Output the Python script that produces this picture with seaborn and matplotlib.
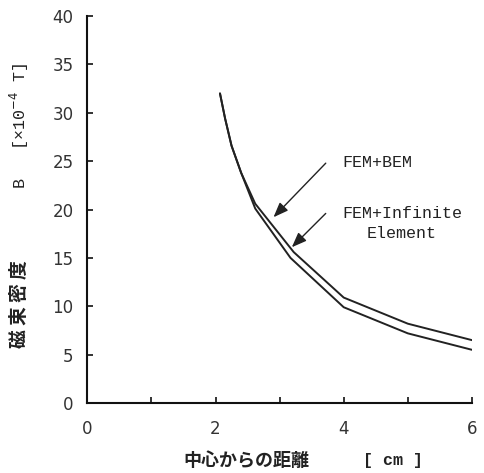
import numpy as np
import pandas as pd
import matplotlib
matplotlib.use("Agg")
import matplotlib.pyplot as plt
import seaborn as sns

# data
x_bem = [2.07, 2.15, 2.25, 2.40, 2.62, 3.22, 4.00, 5.00, 6.00]
y_bem = [32.0, 29.4, 26.6, 23.8, 20.6, 15.6, 10.9, 8.2, 6.5]
x_inf = [2.07, 2.15, 2.25, 2.40, 2.62, 3.17, 4.00, 5.00, 6.00]
y_inf = [32.0, 29.4, 26.6, 23.8, 20.1, 15.0, 9.9, 7.2, 5.5]
series_names = ["FEM+BEM", "FEM+Infinite"]
x_ticks = [0, 1, 2, 3, 4, 5, 6]
x_ticklabels = ["0", "", "2", "", "4", "", "6"]
y_ticks = [0, 5, 10, 15, 20, 25, 30, 35, 40]

df = pd.concat([
    pd.DataFrame({"x": x_bem, "y": y_bem, "s": series_names[0]}),
    pd.DataFrame({"x": x_inf, "y": y_inf, "s": series_names[1]}),
])

sns.set_style("ticks")
plt.rcParams['font.family'] = ['DejaVu Sans', 'Noto Sans CJK JP']

fig = plt.figure(figsize=(4.85, 4.73), dpi=100)
ax = fig.add_axes([0.180, 0.148, 0.793, 0.818])
sns.lineplot(data=df, x="x", y="y", units="s", estimator=None, sort=False,
             color="#222222", lw=1.4, ax=ax, legend=False)

ax.set_xlim(0, 6)
ax.set_ylim(0, 40)
ax.set_xticks(x_ticks)
ax.set_xticklabels(x_ticklabels)
ax.set_yticks(y_ticks)
sns.despine(ax=ax)
for s in ["left", "bottom"]:
    ax.spines[s].set_linewidth(1.5)
    ax.spines[s].set_color("#111111")
ax.tick_params(direction="in", length=4, width=1.2, colors="#111111",
               labelsize=12)
ax.tick_params(axis="x", pad=12)
ax.tick_params(axis="y", pad=10)
for lab in ax.get_xticklabels() + ax.get_yticklabels():
    lab.set_family("DejaVu Sans")
    lab.set_color("#333333")

ax.set_xlabel("")
ax.set_ylabel("")

fig.text(0.508, 0.026, "中心からの距離", family=["Noto Sans CJK JP"],
         fontweight="bold", fontsize=13, ha="center", va="center", color="#222222")
fig.text(0.811, 0.026, "[ cm ]", family=["Liberation Mono"],
         fontweight="bold", fontsize=12, ha="center", va="center", color="#222222")
fig.text(0.041, 0.358, "磁 束 密 度", family=["Noto Sans CJK JP"],
         fontweight="bold", fontsize=13.5, rotation=90, ha="center", va="center", color="#222222")
fig.text(0.041, 0.734, "B   [×10$^{-4}$ T]", family=["Liberation Mono"],
         fontsize=12, rotation=90, ha="center", va="center", color="#222222")

# annotations
ax.annotate("", xy=(2.875, 19.0), xytext=(3.75, 25.0),
            arrowprops=dict(arrowstyle="-|>,head_length=0.9,head_width=0.35",
                            color="#222222", lw=1.0))
ax.annotate("", xy=(3.16, 15.9), xytext=(3.75, 19.8),
            arrowprops=dict(arrowstyle="-|>,head_length=0.9,head_width=0.35",
                            color="#222222", lw=1.0))
ax.text(3.98, 24.9, series_names[0], family="Liberation Mono", fontsize=12,
        va="center", ha="left", color="#222222")
ax.text(3.98, 19.6, series_names[1], family="Liberation Mono", fontsize=12,
        va="center", ha="left", color="#222222")
ax.text(4.36, 17.5, "Element", family="Liberation Mono", fontsize=12,
        va="center", ha="left", color="#222222")

fig.savefig("out.png", dpi=100, facecolor="white")
